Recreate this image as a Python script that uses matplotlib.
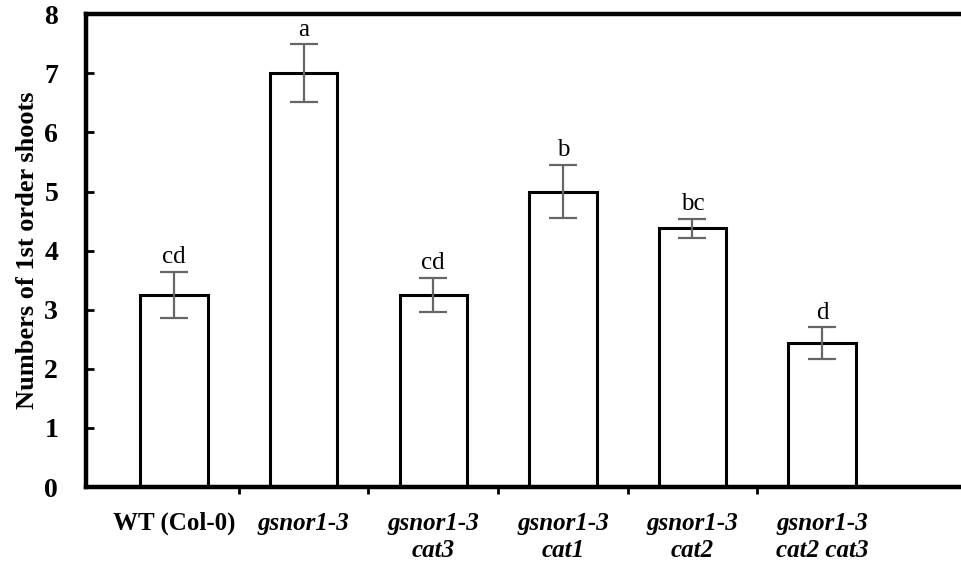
import numpy as np
import matplotlib.pyplot as plt

plt.rcParams['font.family'] = ['Liberation Serif', 'DejaVu Serif']

# 数据
genotypes = ['WT (Col-0)', 'gsnor1-3', 'gsnor1-3\ncat3', 'gsnor1-3\ncat1',
             'gsnor1-3\ncat2', 'gsnor1-3\ncat2 cat3']
means = [3.25, 7.0, 3.25, 5.0, 4.38, 2.43]
errors = [0.39, 0.49, 0.29, 0.45, 0.16, 0.27]
letters = ['cd', 'a', 'cd', 'b', 'bc', 'd']
y_ticks = [0, 1, 2, 3, 4, 5, 6, 7, 8]

fig = plt.figure(figsize=(9.62, 5.67), dpi=100)
ax = fig.add_axes([0.0894, 0.141, 0.9106, 0.834])

x = np.arange(len(genotypes))
ax.bar(x, means, width=0.52, facecolor='white', edgecolor='black',
       linewidth=2.2, zorder=2)
ax.errorbar(x, means, yerr=errors, fmt='none', ecolor='#666666',
            elinewidth=1.6, capsize=10, capthick=1.6, zorder=3)

# 显著性字母
for xi, m, e, lab in zip(x, means, errors, letters):
    ax.text(xi, m + e + 0.06, lab, ha='center', va='bottom', fontsize=18)

ax.set_xlim(-0.68, 6.08)
ax.set_ylim(0, 8)
ax.set_yticks(y_ticks)
ax.set_yticklabels([str(t) for t in y_ticks], fontsize=20, fontweight='bold')
ax.tick_params(axis='y', direction='in', length=6, width=2, pad=20)

# x 轴刻度放在类别之间
ax.set_xticks(x[:-1] + 0.5)
ax.set_xticklabels([])
ax.tick_params(axis='x', direction='out', length=5, width=2)
for xi, name in zip(x, genotypes):
    style = 'normal' if xi == 0 else 'italic'
    ax.text(xi, -0.42, name, ha='center', va='top', fontsize=18,
            fontweight='bold', fontstyle=style, linespacing=1.25,
            transform=ax.transData)

ax.set_ylabel('Numbers of 1st order shoots', fontsize=19, fontweight='bold',
              labelpad=4)

for side in ['left', 'top', 'bottom']:
    ax.spines[side].set_linewidth(3.2)
ax.spines['right'].set_visible(False)

fig.savefig('out.png', dpi=100)
